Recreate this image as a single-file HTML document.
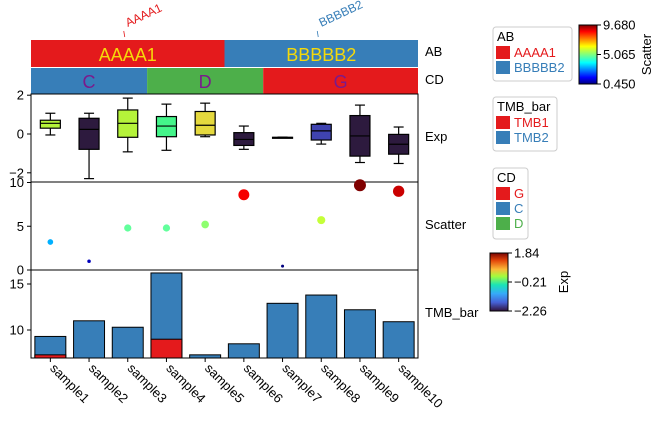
<!DOCTYPE html>
<html><head><meta charset="utf-8"><style>
body{margin:0;background:#fff}
svg{font-family:"Liberation Sans",Arial,sans-serif}
</style></head><body>
<svg id="chart" width="662" height="419" viewBox="0 0 662 419" xmlns="http://www.w3.org/2000/svg">
<defs>
<linearGradient id="jet" x1="0" y1="1" x2="0" y2="0">
<stop offset="0" stop-color="#00007f"/><stop offset="0.11" stop-color="#0000ff"/><stop offset="0.36" stop-color="#00ffff"/><stop offset="0.5" stop-color="#7fff7f"/><stop offset="0.64" stop-color="#ffff00"/><stop offset="0.89" stop-color="#ff0000"/><stop offset="1" stop-color="#7f0000"/>
</linearGradient>
<linearGradient id="turbo" x1="0" y1="1" x2="0" y2="0">
<stop offset="0" stop-color="#30123b"/><stop offset="0.15" stop-color="#4662d7"/><stop offset="0.3" stop-color="#36aaf9"/><stop offset="0.45" stop-color="#1ae4b6"/><stop offset="0.6" stop-color="#a4fc3c"/><stop offset="0.72" stop-color="#fbb938"/><stop offset="0.87" stop-color="#e4460a"/><stop offset="1" stop-color="#7a0403"/>
</linearGradient>
</defs>
<g id="plot"></g>
</svg>
<script>
const samples=["sample1","sample2","sample3","sample4","sample5","sample6","sample7","sample8","sample9","sample10"];
const abGroups=["AAAA1","AAAA1","AAAA1","AAAA1","AAAA1","BBBBB2","BBBBB2","BBBBB2","BBBBB2","BBBBB2"];
const cdGroups=["C","C","C","D","D","D","G","G","G","G"];
const boxMin=[-0.05,-2.3,-0.92,-0.84,-0.14,-0.79,-0.2,-0.52,-1.47,-1.52];
const boxQ1=[0.30,-0.79,-0.17,-0.14,-0.05,-0.59,-0.19,-0.31,-1.14,-1.04];
const boxMed=[0.55,0.24,0.55,0.41,0.45,-0.28,-0.18,0.16,-0.10,-0.53];
const boxQ3=[0.71,0.81,1.24,0.90,1.16,0.07,-0.17,0.50,0.95,-0.02];
const boxMax=[1.07,1.07,1.85,1.54,1.59,0.41,-0.16,0.55,1.49,0.36];
const scatterVals=[3.2,1.0,4.8,4.8,5.2,8.6,0.45,5.7,9.68,9.0];
const tmb1=[7.3,0,0,9.0,0,0,0,0,0,0];
const tmbTotal=[9.3,11.0,10.3,16.2,7.3,8.5,12.9,13.8,12.2,10.9];
const expTicks=[-2,0,2];
const scTicks=[0,5,10];
const tmbTicks=[10,15];

const boxColors=["#b5f33a","#2d1a3e","#b5f33a","#44f58a","#e5d93e","#2d1a3e","#2d1a3e","#3f43b0","#2d1a3e","#2d1a3e"];
const NS="http://www.w3.org/2000/svg";
const g=document.getElementById('plot');
function el(t,a,txt){const e=document.createElementNS(NS,t);for(const k in a)e.setAttribute(k,a[k]);if(txt!==undefined)e.textContent=txt;g.appendChild(e);return e;}
const X0=31,X1=418,cw=(X1-X0)/samples.length;
const xc=i=>X0+cw*(i+0.5);
const yExp=v=>134-v*19.4;
const ySc=v=>270-v*8.75;
const yTmb=v=>330-(v-10)*9.2;
const colAB={AAAA1:"#e41a1c",BBBBB2:"#377eb8"},colCD={C:"#377eb8",D:"#4daf4a",G:"#e41a1c"};
function runs(arr){const r=[];arr.forEach((v,i)=>{if(r.length&&r[r.length-1].v===v)r[r.length-1].n++;else r.push({v,s:i,n:1});});return r;}
runs(abGroups).forEach(r=>{
 let e=el('rect',{x:X0+r.s*cw,y:40,width:r.n*cw,height:27,fill:colAB[r.v]});
 
 
 const cx=X0+(r.s+r.n/2)*cw;
 e=el('text',{x:cx,y:61,'text-anchor':'middle','font-size':18,fill:'#f5d90a'},r.v);
 
 
 const lx=cx-1;
 e=el('line',{x1:lx-2,y1:37,x2:lx-3,y2:31,stroke:colAB[r.v],'stroke-width':0.8});
 
 
 e=el('text',{x:lx+1,y:27,'font-size':12,fill:colAB[r.v],transform:`rotate(-25 ${lx+1} 27)`},r.v);
 
 
});
runs(cdGroups).forEach(r=>{
 let e=el('rect',{x:X0+r.s*cw,y:68,width:r.n*cw,height:26,fill:colCD[r.v]});
 
 
 e=el('text',{x:X0+(r.s+r.n/2)*cw,y:88,'text-anchor':'middle','font-size':18,fill:'#7b1a8c'},r.v);
 
 
});
[[94,182],[182,270],[270,358]].forEach((p,i)=>{
 const e=el('rect',{x:X0,y:p[0],width:X1-X0,height:p[1]-p[0],fill:'none',stroke:'#000','stroke-width':1});
 
 
});
function yticks(ticks,f,name){ticks.forEach(t=>{
 let e=el('line',{x1:X0-4,x2:X0,y1:f(t),y2:f(t),stroke:'#000'});
 
 
 e=el('text',{x:X0-7,y:f(t)+4.5,'text-anchor':'end','font-size':13},String(t).replace('-','\u2212'));
 
 
});}
yticks(expTicks,yExp,'exp-y');yticks(scTicks,ySc,'scatter-y');yticks(tmbTicks,yTmb,'tmb-y');
samples.forEach((s,i)=>{
 const x=xc(i),hw=10;
 let e=el('line',{x1:x,x2:x,y1:yExp(boxMax[i]),y2:yExp(boxMin[i]),stroke:'#000','stroke-width':1.2});
 
 
 [boxMax[i],boxMin[i]].forEach(v=>{const c=el('line',{x1:x-5,x2:x+5,y1:yExp(v),y2:yExp(v),stroke:'#000','stroke-width':1.2});
  
  });
 e=el('rect',{x:x-hw,y:yExp(boxQ3[i]),width:2*hw,height:Math.max(1,yExp(boxQ1[i])-yExp(boxQ3[i])),fill:boxColors[i],stroke:'#000','stroke-width':1.2});
 
 
 e=el('line',{x1:x-hw,x2:x+hw,y1:yExp(boxMed[i]),y2:yExp(boxMed[i]),stroke:'#000','stroke-width':1.2});
 
 
});
function jet(t){const r=Math.min(Math.max(Math.min(4*t-1.5,-4*t+4.5),0),1),gg=Math.min(Math.max(Math.min(4*t-0.5,-4*t+3.5),0),1),b=Math.min(Math.max(Math.min(4*t+0.5,-4*t+2.5),0),1);return `rgb(${r*255|0},${gg*255|0},${b*255|0})`;}
const smin=Math.min(...scatterVals),smax=Math.max(...scatterVals);
samples.forEach((s,i)=>{
 const v=scatterVals[i],t=(v-smin)/(smax-smin);
 const e=el('circle',{cx:xc(i),cy:ySc(v),r:1.5+t*4.5,fill:jet(t)});
 
 
});
const bw=cw*0.8,base=358;
samples.forEach((s,i)=>{
 let e=el('rect',{x:xc(i)-bw/2,y:yTmb(tmbTotal[i]),width:bw,height:base-yTmb(tmbTotal[i]),fill:'#377eb8',stroke:'#000','stroke-width':1});
 
 
 if(tmb1[i]>7){e=el('rect',{x:xc(i)-bw/2,y:yTmb(tmb1[i]),width:bw,height:base-yTmb(tmb1[i]),fill:'#e41a1c',stroke:'#000','stroke-width':1});
 
 }
 e=el('line',{x1:xc(i),x2:xc(i),y1:358,y2:362,stroke:'#000'});
 
 
 e=el('text',{x:xc(i)-1,y:369,'font-size':13,transform:`rotate(45 ${xc(i)-1} 369)`},s);
 
 
});
[["AB",56],["CD",84],["Exp",141],["Scatter",229],["TMB_bar",317]].forEach(a=>{
 const e=el('text',{x:425,y:a[1],'font-size':13},a[0]);
 
 
});
function legend(x,y,w,title,items,name){
 const h=20+items.length*17;
 let e=el('rect',{x,y,width:w,height:h,rx:3,fill:'#fff',stroke:'#ccc'});
 
 
 e=el('text',{x:x+4,y:y+14,'font-size':13},title);
 
 
 items.forEach((it,k)=>{
  e=el('rect',{x:x+3,y:y+19+k*15,width:14,height:13,fill:it[1]});
  
  
  e=el('text',{x:x+21,y:y+30+k*15,'font-size':13,fill:it[1]},it[0]);
  
  
 });
}
legend(493,27,79,"AB",[["AAAA1","#e41a1c"],["BBBBB2","#377eb8"]],'ab-legend');
legend(493,97,64,"TMB_bar",[["TMB1","#e41a1c"],["TMB2","#377eb8"]],'tmb-legend');
legend(493,168,35,"CD",[["G","#e41a1c"],["C","#377eb8"],["D","#4daf4a"]],'cd-legend');
function cbar(x,y,h,grad,ticks,label,name,lx){
 let e=el('rect',{x,y,width:18,height:h,fill:`url(#${grad})`,stroke:'#000'});
 
 
 ticks.forEach((t,k)=>{const ty=y+h-k*h/(ticks.length-1);
  e=el('line',{x1:x+18,x2:x+22,y1:ty,y2:ty,stroke:'#000'});
  
  
  e=el('text',{x:x+24,y:ty+4.5,'font-size':13},t);
  
  });
 const ly=y+h/2;
 e=el('text',{x:lx,y:ly,'font-size':13,'text-anchor':'middle',transform:`rotate(-90 ${lx} ${ly})`},label);
 
 
}
cbar(579,25,59,'jet',["0.450","5.065","9.680"],"Scatter",'scatter-colorbar',651);
cbar(490,253,58,'turbo',["\u22122.26","\u22120.21","1.84"],"Exp",'exp-colorbar',568);
</script>
</body></html>
